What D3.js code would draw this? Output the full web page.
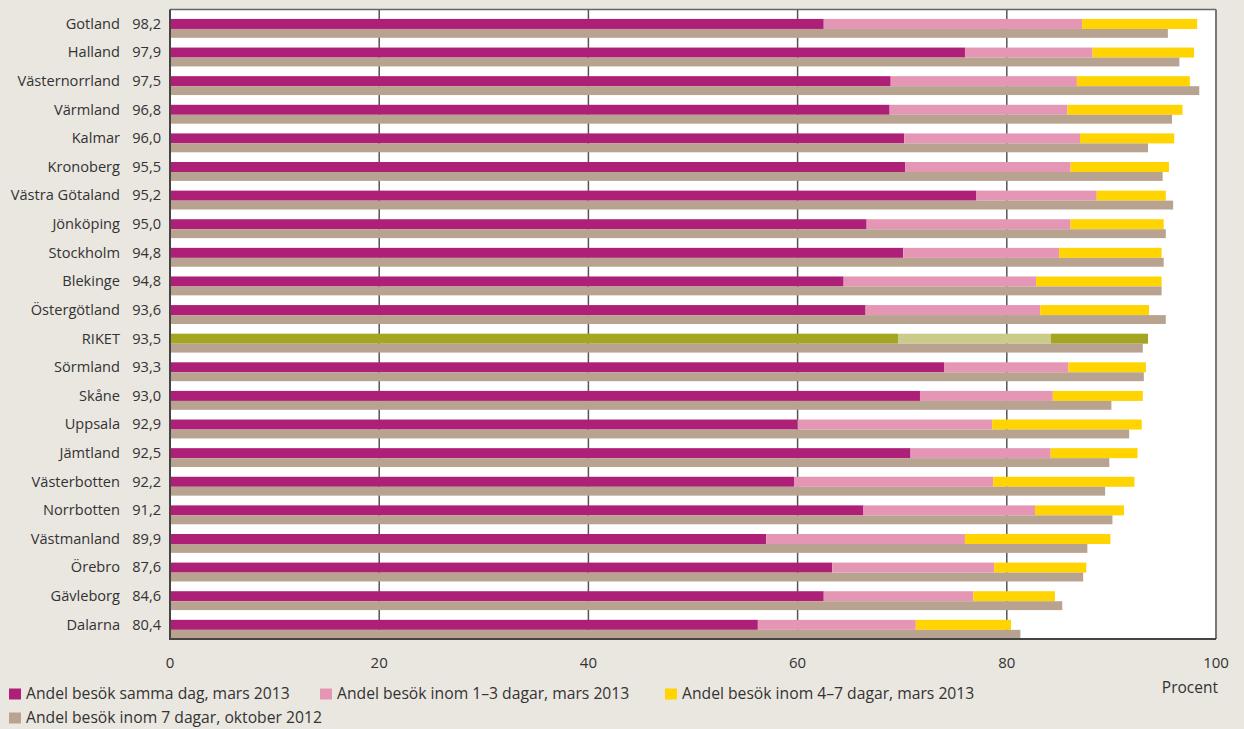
<!DOCTYPE html>
<html><head><meta charset="utf-8">
<script src="https://cdn.jsdelivr.net/npm/d3@7"></script>
<style>
html,body{margin:0;padding:0;background:#EAE6E0;}
svg{display:block;font-family:"Open Sans",sans-serif;}
</style></head>
<body><svg id="c" width="1244" height="729"></svg>
<script>
const categories = ["Gotland","Halland","Västernorrland","Värmland","Kalmar","Kronoberg","Västra Götaland","Jönköping","Stockholm","Blekinge","Östergötland","RIKET","Sörmland","Skåne","Uppsala","Jämtland","Västerbotten","Norrbotten","Västmanland","Örebro","Gävleborg","Dalarna"];
const sameDay   = [62.5,76.0,68.9,68.8,70.2,70.3,77.1,66.6,70.1,64.4,66.5,69.6,74.0,71.7,60.0,70.8,59.7,66.3,57.0,63.3,62.5,56.2];
const days1to3  = [24.7,12.2,17.8,17.0,16.8,15.8,11.5,19.5,14.9,18.4,16.7,14.6,11.9,12.7,18.6,13.4,19.0,16.4,19.0,15.5,14.3,15.1];
const days4to7  = [11.0, 9.7,10.8,11.0, 9.0, 9.4, 6.6, 8.9, 9.8,12.0,10.4, 9.3, 7.4, 8.6,14.3, 8.3,13.5, 8.5,13.9, 8.8, 7.8, 9.1];
const totals    = [98.2,97.9,97.5,96.8,96.0,95.5,95.2,95.0,94.8,94.8,93.6,93.5,93.3,93.0,92.9,92.5,92.2,91.2,89.9,87.6,84.6,80.4];
const oct2012   = [95.4,96.5,98.4,95.8,93.5,94.9,95.9,95.2,95.0,94.8,95.2,93.0,93.1,90.0,91.7,89.8,89.4,90.1,87.7,87.3,85.3,81.3];
const xTicks = [0,20,40,60,80,100];
const seriesNames = ["Andel besök samma dag, mars 2013","Andel besök inom 1–3 dagar, mars 2013","Andel besök inom 4–7 dagar, mars 2013","Andel besök inom 7 dagar, oktober 2012"];
const colors = ["#AE2077","#E696B5","#FFD400","#B8A390"];
const rikColors = ["#A5A524","#CCCC8A","#A5A524"];
const highlight = "RIKET";

const svg = d3.select("#c");
const L = 170, R = 1216, T = 9.5, B = 639;
const x = d3.scaleLinear().domain([0,100]).range([L,R]);
const y = d3.scaleBand().domain(categories).range([T,B]).paddingInner(0).paddingOuter(0);
const bw = y.bandwidth();

svg.append("rect").attr("x",L).attr("y",T).attr("width",R-L).attr("height",B-T).attr("fill","#fff");

// grid
svg.append("g").selectAll("line").data(xTicks.filter(d=>d>0&&d<100)).join("line")
  .attr("x1",d=>x(d)).attr("x2",d=>x(d)).attr("y1",T).attr("y2",B)
  .attr("stroke","#555").attr("stroke-width",1.5);

const rows = categories.map((c,i)=>({c,i,segs:[
  {s:0,e:sameDay[i]},
  {s:sameDay[i],e:sameDay[i]+days1to3[i]},
  {s:sameDay[i]+days1to3[i],e:sameDay[i]+days1to3[i]+days4to7[i]}],oct:oct2012[i],tot:totals[i]}));

const g = svg.append("g");
rows.forEach(r=>{
  const y0 = y(r.c);
  r.segs.forEach((s,k)=>{
    g.append("rect").attr("x",x(s.s)).attr("width",x(s.e)-x(s.s))
      .attr("y",y0+bw*0.33).attr("height",bw*0.35)
      .attr("fill", r.c===highlight ? rikColors[k] : colors[k]);
  });
  g.append("rect").attr("x",x(0)).attr("width",x(r.oct)-x(0))
    .attr("y",y0+bw*0.68).attr("height",bw*0.31).attr("fill",colors[3]);
});

// frame
svg.append("line").attr("x1",L).attr("x2",R).attr("y1",T).attr("y2",T).attr("stroke","#666").attr("stroke-width",1.5);
svg.append("line").attr("x1",R).attr("x2",R).attr("y1",T).attr("y2",B).attr("stroke","#777").attr("stroke-width",2);
svg.append("line").attr("x1",L).attr("x2",L).attr("y1",T).attr("y2",B+1).attr("stroke","#444").attr("stroke-width",2);
svg.append("line").attr("x1",L).attr("x2",R).attr("y1",B).attr("y2",B).attr("stroke","#444").attr("stroke-width",2);

// labels
const fmt = v => v.toFixed(1).replace(".",",");
const lab = svg.append("g").attr("font-size",14.6).attr("fill","#333");
rows.forEach(r=>{
  const cy = y(r.c)+bw*0.5+5;
  lab.append("text").attr("x",120).attr("y",cy).attr("text-anchor","end").text(r.c);
  lab.append("text").attr("x",161).attr("y",cy).attr("text-anchor","end").text(fmt(r.tot));
});

// x axis labels
const ax = svg.append("g").attr("font-size",15).attr("fill","#333");
xTicks.forEach(t=>{
  ax.append("text").attr("x",x(t)).attr("y",668).attr("text-anchor","middle").text(t);
});
ax.append("text").attr("x",1218).attr("y",693).attr("text-anchor","end").attr("font-size",15.5).text("Procent");

// legend
const legPos = [[9,699],[320,699],[665,699],[9,723]];
const lg = svg.append("g").attr("font-size",15.7).attr("fill","#333");
seriesNames.forEach((n,k)=>{
  lg.append("rect").attr("x",legPos[k][0]).attr("y",legPos[k][1]-10.5).attr("width",12).attr("height",11).attr("fill",colors[k]);
  lg.append("text").attr("x",legPos[k][0]+17).attr("y",legPos[k][1]).text(n);
});
</script></body></html>
